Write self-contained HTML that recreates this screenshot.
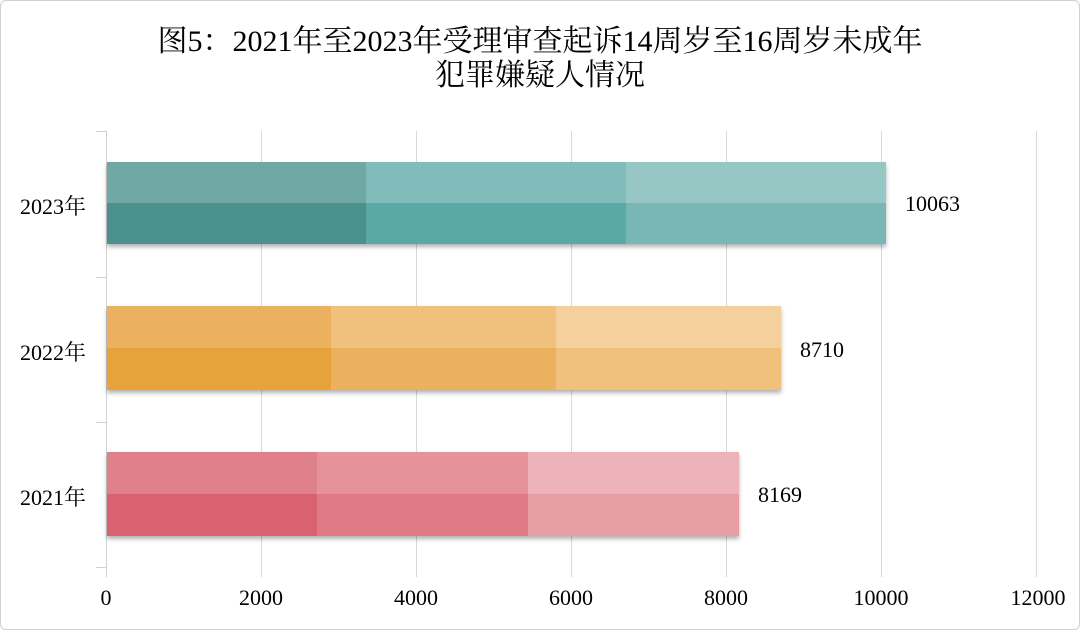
<!DOCTYPE html>
<html><head><meta charset="utf-8"><style>
body{margin:0;background:#fff;}
.w{position:relative;width:1078px;height:628px;border:1px solid #d0d0d0;border-radius:6px;overflow:hidden;font-family:"Liberation Serif","Noto Serif CJK SC",serif;color:#000;}
.t{position:absolute;left:0;width:1078px;text-align:center;font-size:30px;line-height:34px;}
.g{position:absolute;top:130px;height:446px;width:1px;background:#d9d9d9;}
.s{position:absolute;}
.yl{position:absolute;left:19px;font-size:22px;}
.xl{position:absolute;top:584px;font-size:22px;width:80px;text-align:center;}
.v{position:absolute;font-size:22px;}
</style></head><body><div class="w">
<div class="t" style="top:24px">图5：2021年至2023年受理审查起诉14周岁至16周岁未成年</div>
<div class="t" style="top:58px">犯罪嫌疑人情况</div>
<div class="g" style="left:260px"></div><div class="g" style="left:415px"></div><div class="g" style="left:570px"></div><div class="g" style="left:725px"></div><div class="g" style="left:880px"></div><div class="g" style="left:1035px"></div>
<div class="g" style="left:105px;background:#d0d0d0"></div>
<div class="s" style="left:95px;top:130px;width:10px;height:1px;background:#d0d0d0"></div>
<div class="s" style="left:95px;top:276px;width:10px;height:1px;background:#d0d0d0"></div>
<div class="s" style="left:95px;top:421px;width:10px;height:1px;background:#d0d0d0"></div>
<div class="s" style="left:95px;top:566px;width:10px;height:1px;background:#d0d0d0"></div>
<svg class="s" style="left:-1px;top:-1px" width="1078" height="628">
<defs><filter id="sh" x="-5%" y="-20%" width="110%" height="150%"><feDropShadow dx="0" dy="3" stdDeviation="2" flood-color="#000" flood-opacity="0.3"/></filter></defs>
<g filter="url(#sh)">
<rect x="107" y="162" width="779" height="82" fill="#4a918e"/>
<rect x="107" y="306" width="674" height="84" fill="#e8a23a"/>
<rect x="107" y="452" width="632" height="84" fill="#d8626f"/>
</g>
<rect x="107" y="162" width="259" height="41" fill="#70a8a6"/><rect x="107" y="203" width="259" height="41" fill="#4a918e"/>
<rect x="366" y="162" width="260" height="41" fill="#80bcb9"/><rect x="366" y="203" width="260" height="41" fill="#5aa9a6"/>
<rect x="626" y="162" width="260" height="41" fill="#96c7c4"/><rect x="626" y="203" width="260" height="41" fill="#78b7b4"/>
<rect x="107" y="306" width="224" height="42" fill="#ecb15f"/><rect x="107" y="348" width="224" height="42" fill="#e8a23a"/>
<rect x="331" y="306" width="225" height="42" fill="#f0c07c"/><rect x="331" y="348" width="225" height="42" fill="#ecb15f"/>
<rect x="556" y="306" width="225" height="42" fill="#f3d09c"/><rect x="556" y="348" width="225" height="42" fill="#f0c07c"/>
<rect x="107" y="452" width="210" height="42" fill="#e0808a"/><rect x="107" y="494" width="210" height="42" fill="#d8626f"/>
<rect x="317" y="452" width="211" height="42" fill="#e6929a"/><rect x="317" y="494" width="211" height="42" fill="#e07a84"/>
<rect x="528" y="452" width="211" height="42" fill="#edb3b8"/><rect x="528" y="494" width="211" height="42" fill="#e69ea4"/>
</svg>
<div class="yl" style="top:189px">2023年</div>
<div class="yl" style="top:335px">2022年</div>
<div class="yl" style="top:480px">2021年</div>
<div class="v" style="left:904px;top:190px">10063</div>
<div class="v" style="left:799px;top:336px">8710</div>
<div class="v" style="left:757px;top:481px">8169</div>
<div class="xl" style="left:65px">0</div>
<div class="xl" style="left:220px">2000</div>
<div class="xl" style="left:375px">4000</div>
<div class="xl" style="left:530px">6000</div>
<div class="xl" style="left:685px">8000</div>
<div class="xl" style="left:840px">10000</div>
<div class="xl" style="left:997px">12000</div>
</div></body></html>
